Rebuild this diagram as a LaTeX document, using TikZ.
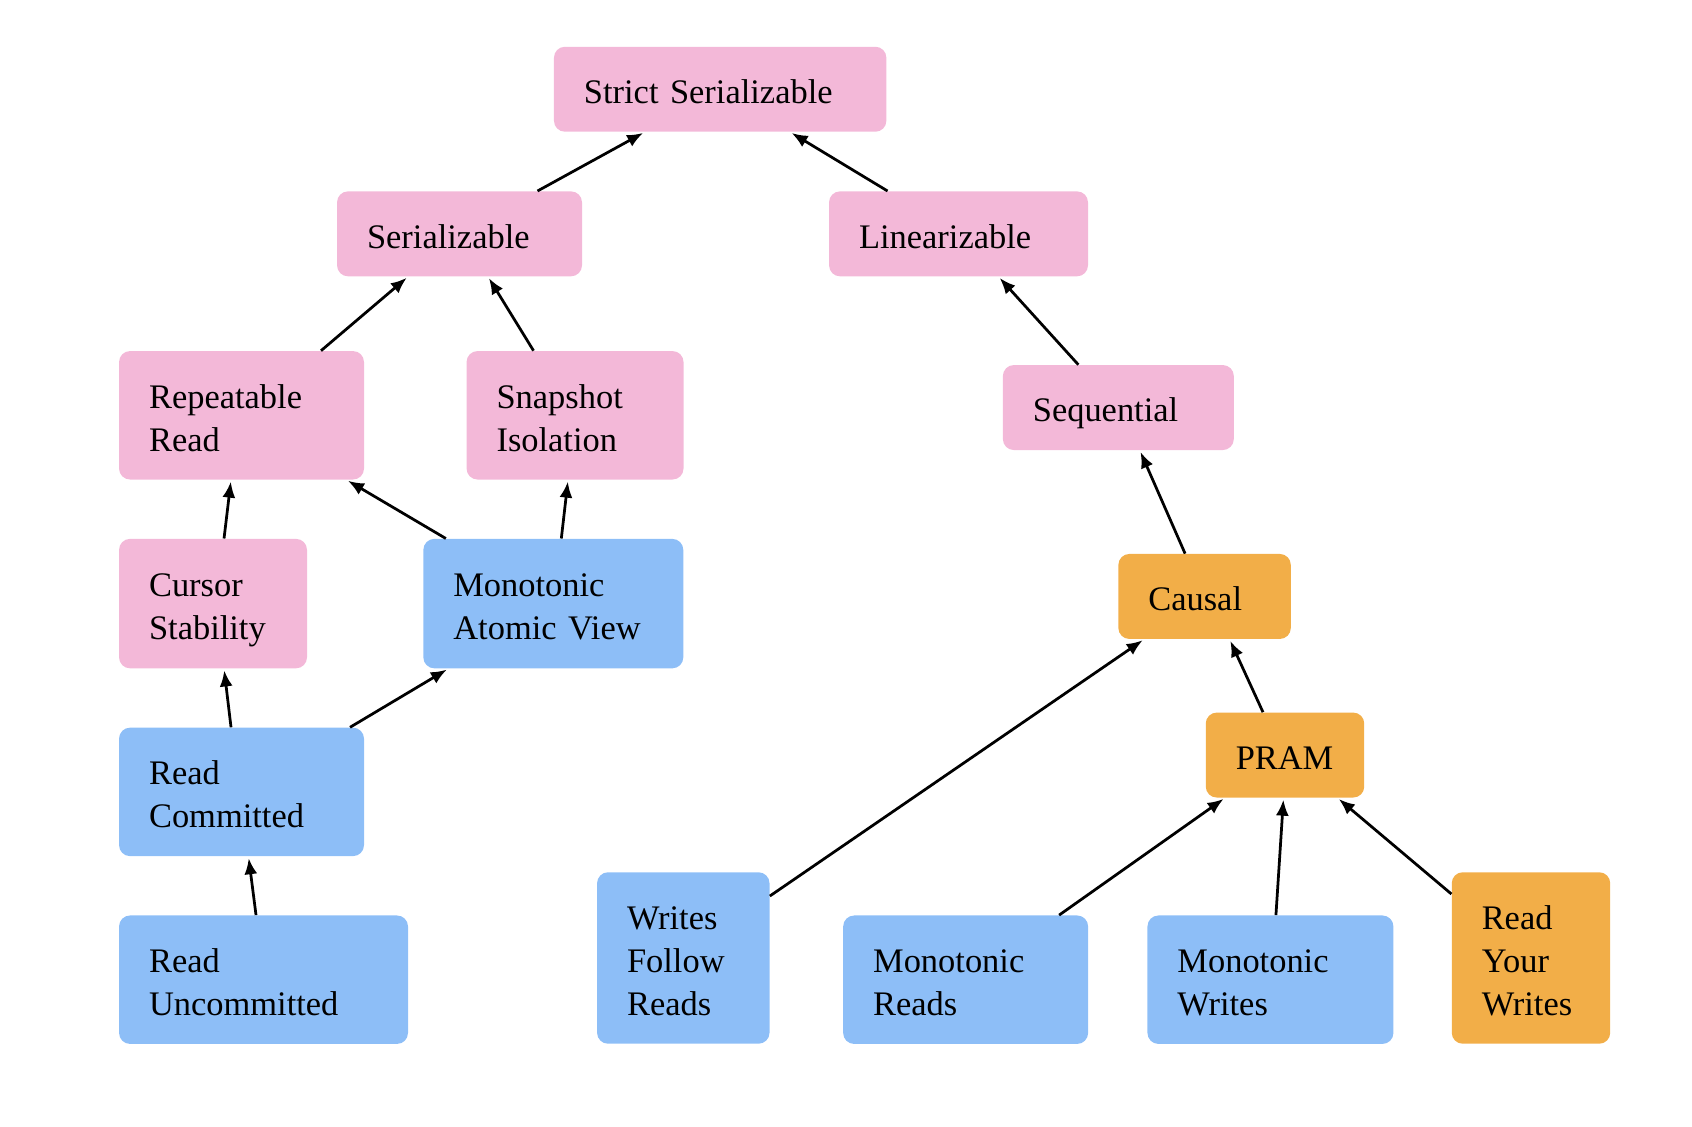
\documentclass[tikz,border=0pt]{standalone}
\usepackage{fontspec}
\setmainfont{Liberation Serif}
\usetikzlibrary{arrows.meta}
\definecolor{pinkfill}{HTML}{F3B8D8}
\definecolor{bluefill}{HTML}{8DBEF7}
\definecolor{orangefill}{HTML}{F2AE48}
% last line of a box: drop its depth so the text sits like the original
\newcommand{\lastline}[1]{\raisebox{0pt}[\height][0pt]{#1}}
\tikzset{
  box/.style={rounded corners=0.22cm, inner xsep=0.6cm, inner ysep=0pt, align=left,
    anchor=north west, text height=16.4pt, font=\fontsize{19.6}{24.5}\selectfont},
  pinkbox/.style={box, fill=pinkfill},
  bluebox/.style={box, fill=bluefill},
  orangebox/.style={box, fill=orangefill},
  arr/.style={-{Latex[length=0.32cm,width=0.26cm]}, line width=0.055cm, shorten >=1pt}
}
\begin{document}
\begin{tikzpicture}[x=0.02cm, y=-0.02cm]
    \useasboundingbox (0,0) rectangle (1692,1126);
    % Top of the hierarchy
    \node[pinkbox, text width=5.45cm, minimum height=1.70cm] (strict) at (553.6,46.4) {\lastline{Strict Serializable}};
    \node[pinkbox, text width=3.70cm, minimum height=1.70cm] (ser) at (336.7,191.0) {\lastline{Serializable}};
    \node[pinkbox, text width=3.98cm, minimum height=1.70cm] (lin) at (828.7,191.0) {\lastline{Linearizable}};
    % Transactional side
    \node[pinkbox, text width=3.70cm, minimum height=2.57cm] (rr) at (118.7,350.7) {Repeatable\\\lastline{Read}};
    \node[pinkbox, text width=3.14cm, minimum height=2.57cm] (si) at (466.2,350.7) {Snapshot\\\lastline{Isolation}};
    \node[pinkbox, text width=2.56cm, minimum height=2.59cm] (cs) at (118.7,538.5) {Cursor\\\lastline{Stability}};
    \node[bluebox, text width=4.00cm, minimum height=2.59cm] (mav) at (423.0,538.5) {Monotonic\\\lastline{Atomic View}};
    \node[bluebox, text width=3.70cm, minimum height=2.57cm] (rc) at (118.7,727.3) {Read\\\lastline{Committed}};
    \node[bluebox, text width=4.58cm, minimum height=2.57cm] (ru) at (118.7,915.1) {Read\\\lastline{Uncommitted}};
    % Single-object side
    \node[pinkbox, text width=3.42cm, minimum height=1.70cm] (seq) at (1002.5,364.7) {\lastline{Sequential}};
    \node[orangebox, text width=2.25cm, minimum height=1.70cm] (causal) at (1118.0,553.6) {\lastline{Causal}};
    \node[orangebox, text width=1.97cm, minimum height=1.70cm] (pram) at (1205.4,712.2) {\lastline{PRAM}};
    \node[bluebox, text width=2.25cm, minimum height=3.43cm] (wfr) at (596.7,871.9) {Writes\\Follow\\\lastline{Reads}};
    \node[bluebox, text width=3.70cm, minimum height=2.57cm] (mr) at (842.8,915.1) {Monotonic\\\lastline{Reads}};
    \node[bluebox, text width=3.72cm, minimum height=2.57cm] (mw) at (1147.1,915.1) {Monotonic\\\lastline{Writes}};
    \node[orangebox, text width=1.97cm, minimum height=3.43cm] (ryw) at (1451.4,871.9) {Read\\Your\\\lastline{Writes}};
    % Edges
    \draw[arr] ([xshift=1.56cm]ser.north) -- ([xshift=-1.51cm]strict.south);
    \draw[arr] ([xshift=-1.42cm]lin.north) -- ([xshift=1.40cm]strict.south);
    \draw[arr] ([xshift=1.59cm]rr.north) -- ([xshift=-1.03cm]ser.south);
    \draw[arr] ([xshift=-0.83cm]si.north) -- ([xshift=0.57cm]ser.south);
    \draw[arr] ([xshift=-0.80cm]seq.north) -- ([xshift=0.80cm]lin.south);
    \draw[arr] ([xshift=0.22cm]cs.north) -- ([xshift=-0.21cm]rr.south);
    \draw[arr] ([xshift=-2.15cm]mav.north) -- ([xshift=2.10cm]rr.south);
    \draw[arr] ([xshift=0.16cm]mav.north) -- ([xshift=-0.14cm]si.south);
    \draw[arr] ([xshift=-0.39cm]causal.north) -- ([xshift=0.43cm]seq.south);
    \draw[arr] ([xshift=-0.21cm]rc.north) -- ([xshift=0.22cm]cs.south);
    \draw[arr] ([xshift=2.17cm]rc.north) -- ([xshift=-2.10cm]mav.south);
    \draw[arr] ([xshift=-0.15cm]ru.north) -- ([xshift=0.14cm]rc.south);
    \draw[arr] ([yshift=1.24cm]wfr.east) -- ([xshift=-1.21cm]causal.south);
    \draw[arr] ([xshift=-0.44cm]pram.north) -- ([xshift=0.50cm]causal.south);
    \draw[arr] ([xshift=1.87cm]mr.north) -- ([xshift=-1.20cm]pram.south);
    \draw[arr] ([xshift=0.11cm]mw.north) -- ([xshift=-0.03cm]pram.south);
    \draw[arr] ([yshift=1.28cm]ryw.west) -- ([xshift=1.05cm]pram.south);
\end{tikzpicture}
\end{document}
